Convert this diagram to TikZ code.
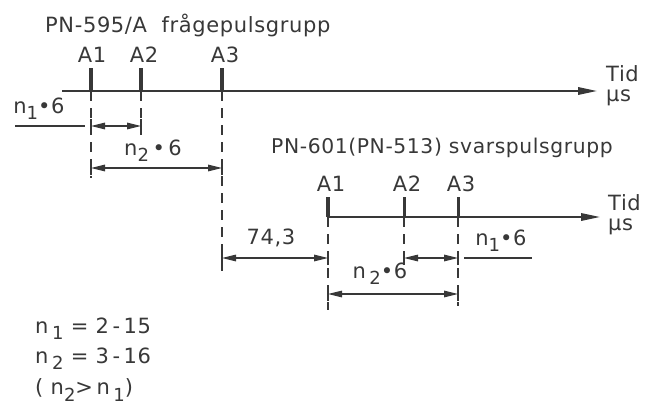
\documentclass[tikz,border=0pt]{standalone}
\usepackage{fontspec}
\setmainfont{DejaVu Sans}[LetterSpace=3.0]
\usetikzlibrary{arrows.meta}
\definecolor{ink}{HTML}{383838}
\newcommand\sbs[1]{\raisebox{-0.55ex}{\fontsize{18}{18}\selectfont #1}}
\begin{document}
\begin{tikzpicture}[x=1pt,y=-1pt,
  axis/.style={draw=ink, line width=1.8pt, -{Triangle[length=19pt,width=7.5pt]}},
  pulse/.style={draw=ink, line width=4.5pt},
  thinpulse/.style={draw=ink, line width=3pt},
  ext/.style={draw=ink, line width=1.2pt, dash pattern=on 10pt off 7pt},
  dimline/.style={draw=ink, line width=1.3pt, {Triangle[length=14pt,width=6.5pt]}-{Triangle[length=14pt,width=6.5pt]}},
  leader/.style={draw=ink, line width=1.3pt},
  tick/.style={draw=ink, line width=1.2pt},
  lbl/.style={text=ink, font=\fontsize{21}{22}\selectfont, inner sep=0pt},
  unit/.style={lbl, anchor=west, align=left, font=\fontsize{21}{20}\selectfont}]
\useasboundingbox (0,0) rectangle (652,412);
% ---- upper group
\node[lbl, anchor=west] (t1) at (45,25) {PN-595/A\ \ frågepulsgrupp};
\coordinate (ax1s) at (62,91);
\coordinate (ax1e) at (597,91);
\draw[axis] (ax1s) -- (ax1e);
\node[unit] (tid1) at (606,86) {Tid\\µs};
\foreach \n/\x in {a1/91,a2/141,a3/222}{
  \coordinate (\n b) at (\x,91);
  \coordinate (\n t) at (\x,68);
  \draw[pulse] (\n b) -- (\n t);
}
\node[lbl] (la1) at (92,55) {A1};
\node[lbl] (la2) at (144,55) {A2};
\node[lbl] (la3) at (225,55) {A3};
\coordinate (e1) at (91,178);
\coordinate (e2) at (141,136);
\coordinate (e3) at (222,274);
\draw[ext] (a1b) -- (e1);
\draw[ext] (a2b) -- (e2);
\draw[ext] (a3b) -- (e3);
% n1*6 upper
\coordinate (d1l) at (91,126);
\coordinate (d1r) at (141,126);
\draw[dimline] (d1l) -- (d1r);
\draw[tick] ([yshift=-7pt]d1l) -- ([yshift=7pt]d1l);
\draw[tick] ([yshift=-7pt]d1r) -- ([yshift=7pt]d1r);
\coordinate (ld1a) at (15,126);
\coordinate (ld1b) at (85,126);
\draw[leader] (ld1a) -- (ld1b);
\node[lbl] (n1u) at (39,109) {n\sbs{1}•6};
% n2*6 upper
\coordinate (d2l) at (91,168);
\coordinate (d2r) at (222,168);
\draw[dimline] (d2l) -- (d2r);
\draw[tick] ([yshift=-7pt]d2l) -- ([yshift=7pt]d2l);
\draw[tick] ([yshift=-7pt]d2r) -- ([yshift=7pt]d2r);
\node[lbl] (n2u) at (153,151) {n\sbs{2}\,•\,6};
% ---- lower group
\node[lbl, anchor=west, font=\fontsize{20.3}{22}\selectfont] (t2) at (271,148) {PN-601(PN-513) svarspulsgrupp};
\coordinate (ax2s) at (328,217);
\coordinate (ax2e) at (600,217);
\draw[axis] (ax2s) -- (ax2e);
\node[unit] (tid2) at (608,215) {Tid\\µs};
\coordinate (b1b) at (328,217); \coordinate (b1t) at (328,197);
\coordinate (b2b) at (404,217); \coordinate (b2t) at (404,197);
\coordinate (b3b) at (458,217); \coordinate (b3t) at (458,197);
\draw[pulse] (b1b) -- (b1t);
\draw[thinpulse] (b2b) -- (b2t);
\draw[thinpulse] (b3b) -- (b3t);
\node[lbl] (lb1) at (331,184) {A1};
\node[lbl] (lb2) at (407,184) {A2};
\node[lbl] (lb3) at (461,184) {A3};
\coordinate (f1) at (328,310);
\coordinate (f2) at (404,262);
\coordinate (f3) at (458,306);
\draw[ext] (b1b) -- (f1);
\draw[ext] (b2b) -- (f2);
\draw[ext] (b3b) -- (f3);
% 74,3
\coordinate (d3l) at (222,258);
\coordinate (d3r) at (328,258);
\draw[dimline] (d3l) -- (d3r);
\draw[tick] ([yshift=-7pt]d3l) -- ([yshift=7pt]d3l);
\draw[tick] ([yshift=-7pt]d3r) -- ([yshift=7pt]d3r);
\node[lbl] (v743) at (271,238) {74,3};
% n1*6 lower
\coordinate (d4l) at (404,258);
\coordinate (d4r) at (458,258);
\draw[dimline] (d4l) -- (d4r);
\draw[tick] ([yshift=-7pt]d4l) -- ([yshift=7pt]d4l);
\draw[tick] ([yshift=-7pt]d4r) -- ([yshift=7pt]d4r);
\coordinate (ld4a) at (464,258);
\coordinate (ld4b) at (532,258);
\draw[leader] (ld4a) -- (ld4b);
\node[lbl] (n1l) at (501,241) {n\sbs{1}•6};
% n2*6 lower
\coordinate (d5l) at (328,294);
\coordinate (d5r) at (458,294);
\draw[dimline] (d5l) -- (d5r);
\draw[tick] ([yshift=-7pt]d5l) -- ([yshift=7pt]d5l);
\draw[tick] ([yshift=-7pt]d5r) -- ([yshift=7pt]d5r);
\node[lbl] (n2l) at (380,274) {n\,\sbs{2}•6};
% ---- ranges
\node[lbl, anchor=west] (r1) at (35,329) {n\,\sbs{1} = 2\,-\,15};
\node[lbl, anchor=west] (r2) at (35,359) {n\,\sbs{2} = 3\,-\,16};
\node[lbl, anchor=west] (r3) at (35,390) {( n\sbs{2}>\,n\,\sbs{1})};
\end{tikzpicture}
\end{document}
